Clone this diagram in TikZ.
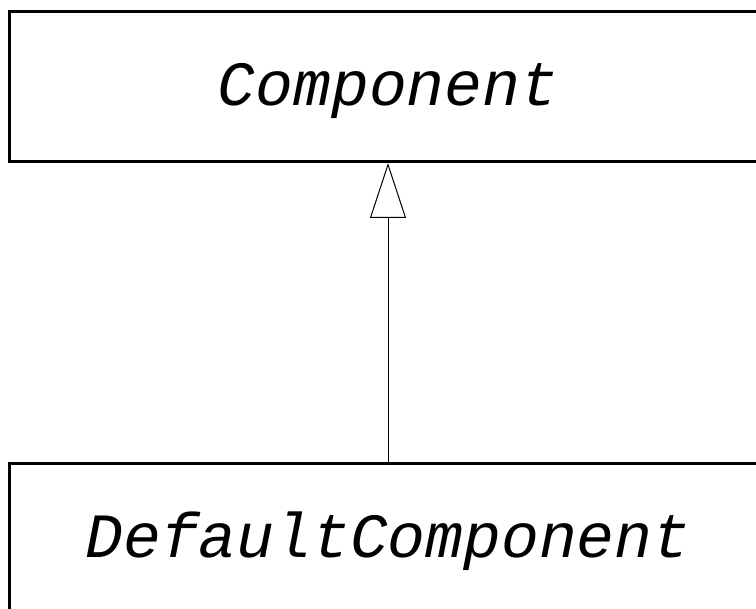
\documentclass[tikz,border=0pt]{standalone}
\usepackage{fontspec}
\setmonofont{Liberation Mono}
\usetikzlibrary{arrows.meta}
\begin{document}
\begin{tikzpicture}[x=1pt,y=-1pt,
  classbox/.style={draw=black, line width=3pt, fill=white, rectangle,
    minimum width=757pt, minimum height=150pt, inner sep=0pt,
    text height=39pt, text depth=0pt,
    font=\fontsize{63}{63}\selectfont\ttfamily\itshape},
  inherit/.style={line width=1pt, -{Triangle[open, length=55pt, width=36pt]}}]
\useasboundingbox (0,0) rectangle (756,609);
\clip (0,0) rectangle (756,609);
\fill[white] (0,0) rectangle (756,609);
\node[classbox] (comp) at (388,86.5) {Component};
\node[classbox] (dcomp) at (388,538.5) {DefaultComponent};
\draw[inherit] (dcomp.north) -- (comp.south);
\end{tikzpicture}
\end{document}
